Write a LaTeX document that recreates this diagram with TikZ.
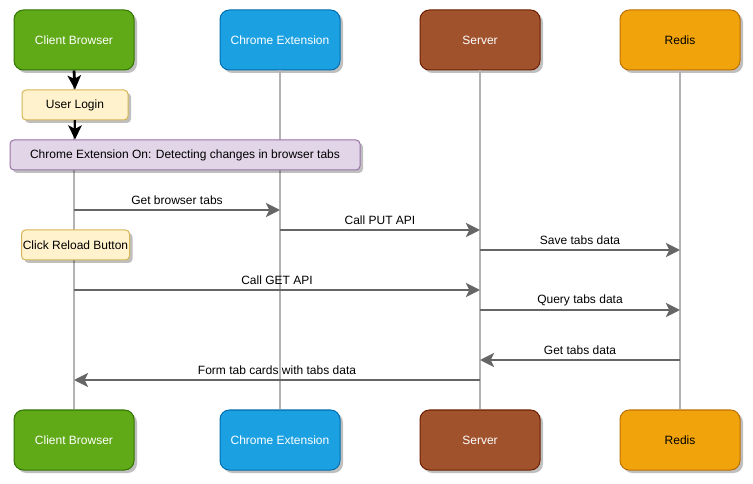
\documentclass[tikz,border=0pt]{standalone}
\usepackage{fontspec}
\setmainfont{Liberation Sans}
\usetikzlibrary{arrows.meta,shadows}
\definecolor{gfill}{HTML}{60A917}\definecolor{gdraw}{HTML}{2D7600}
\definecolor{bfill}{HTML}{1BA1E2}\definecolor{bdraw}{HTML}{006EAF}
\definecolor{rfill}{HTML}{A0522D}\definecolor{rdraw}{HTML}{6D1F00}
\definecolor{ofill}{HTML}{F0A30A}\definecolor{odraw}{HTML}{BD7000}
\definecolor{yfill}{HTML}{FFF2CC}\definecolor{ydraw}{HTML}{D6B656}
\definecolor{pfill}{HTML}{E1D5E7}\definecolor{pdraw}{HTML}{9673A6}
\definecolor{lifec}{HTML}{B3B3B3}\definecolor{msgc}{HTML}{666666}
\tikzset{
  shad/.style={drop shadow={shadow xshift=2.25pt,shadow yshift=-2.25pt,opacity=0.25,fill=black}},
  actor/.style={rectangle,rounded corners=7pt,minimum width=90pt,minimum height=45pt,inner sep=0pt,line width=0.75pt,font=\fontsize{9pt}{11pt}\selectfont,shad},
  green/.style={actor,fill=gfill,draw=gdraw,text=white},
  blue/.style={actor,fill=bfill,draw=bdraw,text=white},
  brown/.style={actor,fill=rfill,draw=rdraw,text=white},
  orange/.style={actor,fill=ofill,draw=odraw,text=black},
  note/.style={rectangle,rounded corners=3pt,minimum height=22.5pt,inner sep=0pt,line width=0.75pt,font=\fontsize{9pt}{11pt}\selectfont,shad},
  ynote/.style={note,fill=yfill,draw=ydraw},
  pnote/.style={note,fill=pfill,draw=pdraw},
  life/.style={draw=lifec,line width=2pt},
  msg/.style={draw=msgc,line width=2.1pt,-{Stealth[length=10.5pt,width=10.5pt,inset=2.5pt]}},
  blk/.style={draw=black,line width=2.1pt,-{Stealth[length=10.5pt,width=10pt,inset=2.5pt]}},
  lbl/.style={midway,yshift=7.5pt,font=\fontsize{9pt}{11pt}\selectfont,text=black,inner sep=0pt}
}
\begin{document}
\begin{tikzpicture}[x=0.75pt,y=-0.75pt]
\path[use as bounding box,fill=white] (0,0) rectangle (753,484);
% actors
\node[green]  (cbT) at (74,40)  {Client Browser};
\node[blue]   (ceT) at (280,40) {Chrome Extension};
\node[brown]  (svT) at (480,40) {Server};
\node[orange] (rdT) at (680,40) {Redis};
\node[green]  (cbB) at (74,440)  {Client Browser};
\node[blue]   (ceB) at (280,440) {Chrome Extension};
\node[brown]  (svB) at (480,440) {Server};
\node[orange] (rdB) at (680,440) {Redis};
% lifelines
\draw[life] (cbT.south) -- (cbB.north);
\draw[life] (ceT.south) -- (ceB.north);
\draw[life] (svT.south) -- (svB.north);
\draw[life] (rdT.south) -- (rdB.north);
% notes
\node[ynote,minimum width=79.5pt] (login) at (75,105) {User Login};
\node[pnote,minimum width=262.5pt] (ext) at (185,155) {Chrome Extension On: Detecting changes in browser tabs};
\node[ynote,minimum width=81pt] (reload) at (75.5,245) {Click Reload Button};
\draw[blk] (cbT.south) -- (login.north);
\draw[blk] (login.south) -- (login.south |- ext.north);
% messages
\draw[msg] (cbT.south |- 0,210) -- node[lbl]{Get browser tabs} (ceT.south |- 0,210);
\draw[msg] (ceT.south |- 0,230) -- node[lbl]{Call PUT API} (svT.south |- 0,230);
\draw[msg] (svT.south |- 0,250) -- node[lbl]{Save tabs data} (rdT.south |- 0,250);
\draw[msg] (cbT.south |- 0,290) -- node[lbl]{Call GET API} (svT.south |- 0,290);
\draw[msg] (svT.south |- 0,310) -- node[lbl]{Query tabs data} (rdT.south |- 0,310);
\draw[msg] (rdT.south |- 0,360) -- node[lbl]{Get tabs data} (svT.south |- 0,360);
\draw[msg] (svT.south |- 0,380) -- node[lbl]{Form tab cards with tabs data} (cbT.south |- 0,380);
\end{tikzpicture}
\end{document}
